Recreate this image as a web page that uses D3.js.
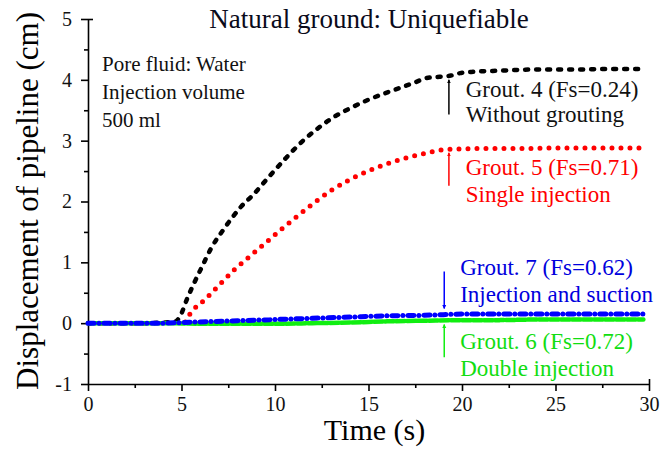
<!DOCTYPE html>
<html>
<head>
<meta charset="utf-8">
<script src="https://cdn.jsdelivr.net/npm/d3@7"></script>
</head>
<body style="margin:0">
<svg id="chart" width="662" height="450"></svg>
<script>
// ==================================
// data
// ==================================
var xTicks = [0, 5, 10, 15, 20, 25, 30];
var xMinor = [2.5, 7.5, 12.5, 17.5, 22.5, 27.5];
var yTicks = [-1, 0, 1, 2, 3, 4, 5];
var yMinor = [-0.5, 0.5, 1.5, 2.5, 3.5, 4.5];

// Grout. 4 - without grouting
var g4Time = [0, 1, 2, 3, 4, 4.6, 4.9, 5.3, 5.6, 6.1, 6.6, 7.2, 7.7, 8.2, 8.8, 9.6, 10.6, 11.5, 12.2, 13.1, 14.0, 14.9, 15.8, 16.7, 17.5, 18.1, 18.8, 19.4, 19.9, 20.5, 22, 24, 26, 28, 29.7];
var g4Disp = [0, 0, 0, 0, 0.01, 0.02, 0.1, 0.4, 0.61, 0.93, 1.24, 1.52, 1.73, 1.92, 2.1, 2.38, 2.72, 3.0, 3.18, 3.38, 3.53, 3.66, 3.77, 3.87, 3.96, 4.03, 4.05, 4.07, 4.11, 4.13, 4.15, 4.17, 4.17, 4.18, 4.18];

// Grout. 5 - single injection
var g5Time = [5.2, 5.45, 6.26, 7.06, 7.86, 8.66, 9.57, 10.4, 11.2, 12.1, 13.0, 14.0, 14.9, 15.8, 16.7, 17.6, 18.3, 19.0, 19.6, 21, 23, 25, 27, 29.7];
var g5Disp = [0.02, 0.15, 0.39, 0.64, 0.89, 1.1, 1.34, 1.56, 1.76, 1.98, 2.18, 2.36, 2.49, 2.6, 2.69, 2.76, 2.81, 2.85, 2.86, 2.87, 2.87, 2.88, 2.88, 2.88];

// Grout. 6 - double injection
var g6Time = [0, 2, 4, 5, 6, 8, 10, 12, 14, 16, 18, 20, 22, 24, 26, 28, 29.7];
var g6Disp = [0, 0, 0, -0.005, -0.01, -0.01, -0.01, 0, 0.01, 0.03, 0.04, 0.05, 0.05, 0.06, 0.06, 0.06, 0.06];

// Grout. 7 - injection and suction
var g7Time = [0, 2, 4, 5, 6, 8, 10, 12, 14, 16, 18, 19, 20, 22, 24, 26, 28, 29.7];
var g7Disp = [0, 0, 0, 0.01, 0.02, 0.04, 0.06, 0.08, 0.1, 0.12, 0.13, 0.14, 0.15, 0.15, 0.15, 0.15, 0.15, 0.15];

// ==================================
// layout
// ==================================
var PLOT = { left: 88, right: 649, top: 19, bottom: 384 };
var FONT = "'Tinos', 'Liberation Serif', 'Times'";

var svg = d3.select("#chart");

var x = d3.scaleLinear().domain([0, 30]).range([PLOT.left, PLOT.right]);
var y = d3.scaleLinear().domain([-1, 5]).range([PLOT.bottom, PLOT.top]);

function zip(ts, vs) {
	return ts.map(function(t, i) { return [t, vs[i]]; });
}

// every text goes through here so they all get the same face
function label(sel, size, color) {
	return sel.attr("font-family", FONT)
		.style("font-family", FONT, "important")
		.style("font-size", size, "important")
		.attr("fill", color);
}

// ==================================
// axes
// ==================================
var plain = function(d) { return String(d); };

var xAxisG = svg.append("g").attr("transform", "translate(0," + PLOT.bottom + ")");
xAxisG.call(d3.axisBottom(x).tickValues(xTicks).tickFormat(plain).tickSize(7).tickSizeOuter(0).tickPadding(6));
xAxisG.append("g").call(d3.axisBottom(x).tickValues(xMinor).tickSize(4).tickFormat(""))
	.select(".domain").remove();
xAxisG.append("g").call(d3.axisTop(x).tickValues([30]).tickSize(5).tickFormat(""))
	.select(".domain").remove();

var yAxisG = svg.append("g").attr("transform", "translate(" + PLOT.left + ",0)");
yAxisG.call(d3.axisLeft(y).tickValues(yTicks).tickFormat(plain).tickSize(7).tickSizeOuter(0).tickPadding(9));
yAxisG.append("g").call(d3.axisLeft(y).tickValues(yMinor).tickSize(4).tickFormat(""))
	.select(".domain").remove();
yAxisG.append("g").call(d3.axisRight(y).tickValues([5]).tickSize(5).tickFormat(""))
	.select(".domain").remove();

svg.selectAll("g").attr("font-family", null);
svg.selectAll(".domain, .tick line").attr("stroke", "#000").attr("stroke-width", 1.6);
label(svg.selectAll(".tick text"), "20px", "#111");

// axis titles
label(svg.append("text"), "30px", "#000")
	.attr("x", (PLOT.left + PLOT.right) / 2 + 6)
	.attr("y", 440)
	.attr("text-anchor", "middle")
	.text("Time (s)");

label(svg.append("text"), "31px", "#000")
	.attr("transform", "translate(38," + 201 + ") rotate(-90)")
	.attr("text-anchor", "middle")
	.text("Displacement of pipeline (cm)");

// title
label(svg.append("text"), "27px", "#0a0a1a")
	.attr("x", 369)
	.attr("y", 28)
	.attr("text-anchor", "middle")
	.text("Natural ground: Uniquefiable");

// test conditions
var info = ["Pore fluid: Water", "Injection volume", "500 ml"];
label(svg.append("g").selectAll("text").data(info).enter().append("text"), "21px", "#111")
	.attr("x", 102)
	.attr("y", function(d, i) { return 71 + i * 28; })
	.text(function(d) { return d; });

// ==================================
// series
// ==================================
var line = d3.line()
	.x(function(d) { return x(d[0]); })
	.y(function(d) { return y(d[1]); })
	.curve(d3.curveMonotoneX);

var series = [
	{ data: zip(g4Time, g4Disp), color: "#000000", width: 4.5, dash: "3,8" },
	{ data: zip(g5Time, g5Disp), color: "#ff0000", width: 5, dash: "0,9" },
	{ data: zip(g6Time, g6Disp), color: "#11ee11", width: 4.5, dash: "9,2" },
	{ data: zip(g7Time, g7Disp), color: "#0000ff", width: 5, dash: "6,5,0,5" }
];

svg.append("g").selectAll("path").data(series).enter().append("path")
	.attr("d", function(s) { return line(s.data); })
	.attr("fill", "none")
	.attr("stroke", function(s) { return s.color; })
	.attr("stroke-width", function(s) { return s.width; })
	.attr("stroke-dasharray", function(s) { return s.dash; })
	.attr("stroke-linecap", "round");

// ==================================
// annotations (arrow + two lines of text)
// ==================================
var notes = [
	{ color: "#000000", text: "#111111", ax: 19.3, from: 3.43, to: 4.0, tx: 20.2, ty: [3.72, 3.3], lines: ["Grout. 4 (Fs=0.24)", "Without grouting"] },
	{ color: "#ff0000", text: "#ff0000", ax: 19.3, from: 2.26, to: 2.8, tx: 20.2, ty: [2.44, 2.0], lines: ["Grout. 5 (Fs=0.71)", "Single injection"] },
	{ color: "#0000ff", text: "#0000dd", ax: 19.05, from: 0.85, to: 0.24, tx: 19.9, ty: [0.8, 0.34], lines: ["Grout. 7 (Fs=0.62)", "Injection and suction"] },
	{ color: "#11ee11", text: "#11dd11", ax: 19.05, from: -0.56, to: -0.02, tx: 19.9, ty: [-0.43, -0.87], lines: ["Grout. 6 (Fs=0.72)", "Double injection"] }
];

var defs = svg.append("defs");
notes.forEach(function(n, i) {
	defs.append("marker")
		.attr("id", "arrow" + i)
		.attr("viewBox", "0 0 10 10")
		.attr("refX", 9).attr("refY", 5)
		.attr("markerWidth", 4).attr("markerHeight", 6)
		.attr("markerUnits", "userSpaceOnUse")
		.attr("orient", "auto")
		.append("path")
		.attr("d", "M0,0 L10,5 L0,10 Z")
		.attr("fill", n.color);

	var g = svg.append("g");
	g.append("line")
		.attr("x1", x(n.ax)).attr("x2", x(n.ax))
		.attr("y1", y(n.from)).attr("y2", y(n.to))
		.attr("stroke", n.color)
		.attr("stroke-width", 1.5)
		.attr("marker-end", "url(#arrow" + i + ")");

	label(g.selectAll("text").data(n.lines).enter().append("text"), "23px", n.text)
		.attr("x", x(n.tx))
		.attr("y", function(d, j) { return y(n.ty[j]); })
		.text(function(d) { return d; });
});
</script>
</body>
</html>
